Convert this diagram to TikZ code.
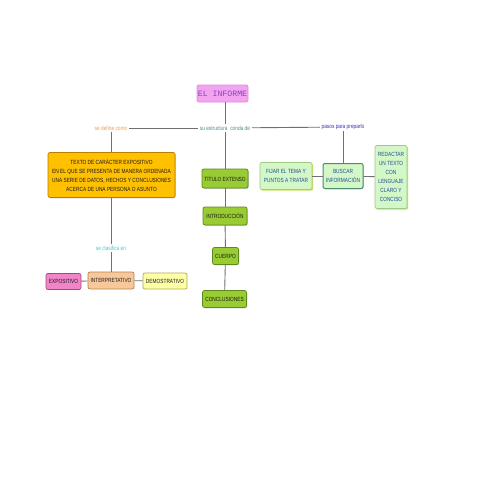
\documentclass[tikz,border=0pt]{standalone}
\usepackage{fontspec}
\usetikzlibrary{shadows}
\newfontfamily\nf[FakeStretch=0.8]{Liberation Sans}
\newfontfamily\mf{Liberation Mono}
\definecolor{linec}{HTML}{707070}
\definecolor{grF}{HTML}{99CC33}
\definecolor{grD}{HTML}{5E8A1E}
\definecolor{lgF}{HTML}{D4F7C8}
\definecolor{lgD}{HTML}{9CCB84}
\definecolor{lgS}{HTML}{C6E048}
\definecolor{lgT}{HTML}{1F4C94}
\definecolor{buD}{HTML}{4E8A6C}
\definecolor{yeF}{HTML}{FFC000}
\definecolor{yeD}{HTML}{B98000}
\definecolor{exF}{HTML}{F284C8}
\definecolor{exD}{HTML}{A04A84}
\definecolor{inF}{HTML}{F8C89A}
\definecolor{inD}{HTML}{B8804E}
\definecolor{deF}{HTML}{FFFFA8}
\definecolor{deD}{HTML}{ACAC52}
\definecolor{piF}{HTML}{F2A4F0}
\definecolor{piD}{HTML}{E48AE0}
\definecolor{piT}{HTML}{8A44B8}
\definecolor{lbOr}{HTML}{F0A040}
\definecolor{lbGr}{HTML}{4E8C8C}
\definecolor{lbBl}{HTML}{3434B8}
\definecolor{lbTe}{HTML}{4CC4C8}
\tikzset{
  box/.style={draw, rounded corners=2pt, line width=0.7pt, align=center,
    inner sep=0.5pt, font=\nf\fontsize{6}{9}\selectfont, text=black!90},
  greenbox/.style={box, fill=grF, draw=grD,
    drop shadow={shadow xshift=0.8pt, shadow yshift=-0.8pt, fill=black, opacity=0.2}},
  lightbox/.style={box, fill=lgF, draw=lgD, text=lgT,
    drop shadow={shadow xshift=1.2pt, shadow yshift=-1.2pt, fill=lgS, opacity=0.9}},
  buscarbox/.style={box, fill=lgF, draw=buD, line width=1pt, text=lgT,
    drop shadow={shadow xshift=0.8pt, shadow yshift=-0.8pt, fill=black, opacity=0.15}},
  yellowbox/.style={box, fill=yeF, draw=yeD,
    drop shadow={shadow xshift=0.8pt, shadow yshift=-0.8pt, fill=black, opacity=0.2}},
  expbox/.style={box, fill=exF, draw=exD},
  intbox/.style={box, fill=inF, draw=inD},
  dembox/.style={box, fill=deF, draw=deD},
  titlebox/.style={draw=piD, fill=piF, rounded corners=2pt, line width=0.7pt,
    font=\mf\fontsize{8.2}{9}\selectfont, text=piT, inner sep=0.5pt},
  lab/.style={font=\nf\fontsize{6}{7}\selectfont, inner sep=1.5pt},
  conn/.style={draw=linec, line width=0.9pt}
}
\begin{document}
\begin{tikzpicture}[x=1pt,y=-1pt]
\useasboundingbox (0,0) rectangle (495,495);
\fill[white] (0,0) rectangle (495,495);

\node[titlebox, minimum width=51pt, minimum height=17pt] (inf) at (222.5,93.5) {EL INFORME};

\node[lab, text=lbOr] (def) at (111,128) {se define como};
\node[lab, text=lbGr] (est) at (225,128) {su estructura\ \ conda de};
\node[lab, text=lbBl] (pas) at (343,127) {pasos para preparlo};
\node[lab, text=lbTe] (cla) at (111,248) {se clasifica en};

\node[yellowbox, minimum width=127pt, minimum height=45pt] (txt) at (111.5,175)
  {TEXTO DE CARÁCTER EXPOSITIVO\\EN EL QUE SE PRESENTA DE MANERA ORDENADA\\UNA SERIE DE DATOS, HECHOS Y CONCLUSIONES\\ACERCA DE UNA PERSONA O ASUNTO};

\node[greenbox, minimum width=46pt, minimum height=19pt] (tit) at (225,178.5) {TÍTULO EXTENSO};
\node[greenbox, minimum width=44pt, minimum height=18pt] (intr) at (225,216) {INTRODUCCIÓN};
\node[greenbox, minimum width=26pt, minimum height=17pt] (cue) at (225.5,256) {CUERPO};
\node[greenbox, minimum width=44pt, minimum height=17pt] (con) at (224.5,299) {CONCLUSIONES};

\node[lightbox, minimum width=52pt, minimum height=27pt] (fij) at (286,176) {FIJAR EL TEMA Y\\PUNTOS A TRATAR};
\node[buscarbox, minimum width=40pt, minimum height=25pt] (bus) at (343,176) {BUSCAR\\INFORMACIÓN};
\node[lightbox, minimum width=32pt, minimum height=63pt] (red) at (391,177) {REDACTAR\\UN TEXTO\\CON\\LENGUAJE\\CLARO Y\\CONCISO};

\node[expbox, minimum width=35pt, minimum height=16pt] (exp) at (63.5,281.5) {EXPOSITIVO};
\node[intbox, minimum width=46pt, minimum height=17pt] (int) at (111,280.5) {INTERPRETATIVO};
\node[dembox, minimum width=44pt, minimum height=16pt] (dem) at (165,281) {DEMOSTRATIVO};

\draw[conn] (inf.south -| est.north) -- (est.north);
\draw[conn] (def) -- (est);
\draw[conn] (est) -- (pas);
\draw[conn] (def.south) -- (def.south |- txt.north);
\draw[conn] (txt.south -| cla.north) -- (cla.north);
\draw[conn] (cla.south) -- (cla.south |- int.north);
\draw[conn] (int) -- (exp);
\draw[conn] (int) -- (dem);
\draw[conn] (est.south -| tit.north) -- (tit.north);
\draw[conn] (tit) -- (intr);
\draw[conn] (intr) -- (cue);
\draw[conn] (cue) -- (con);
\draw[conn] (pas.south) -- (pas.south |- bus.north);
\draw[conn] (bus) -- (fij);
\draw[conn] (bus) -- (red);
\end{tikzpicture}
\end{document}
